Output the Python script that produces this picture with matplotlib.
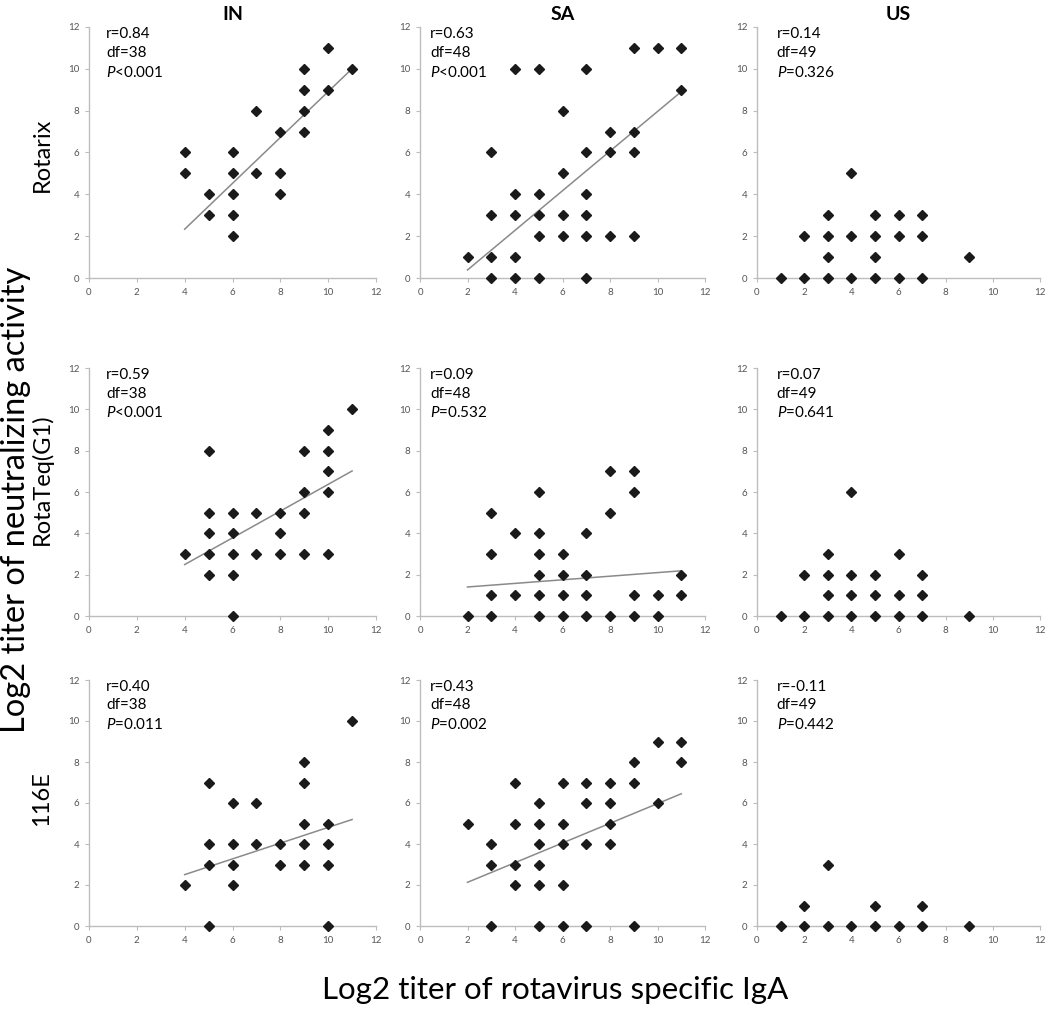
import numpy as np
import matplotlib.pyplot as plt

plt.rcParams['font.family'] = ['Lato', 'DejaVu Sans']
plt.rcParams['mathtext.fontset'] = 'custom'
plt.rcParams['mathtext.rm'] = 'Lato'
plt.rcParams['mathtext.it'] = 'Lato:italic'

countries = ['IN', 'SA', 'US']
vaccines = ['Rotarix', 'RotaTeq(G1)', '116E']

# Rotarix row
in_rotarix_x = [4, 4, 5, 5, 6, 6, 6, 6, 6, 7, 7, 8, 8, 8, 9, 9, 9, 9, 10, 10, 11]
in_rotarix_y = [6, 5, 4, 3, 6, 5, 4, 3, 2, 8, 5, 7, 5, 4, 10, 9, 8, 7, 11, 9, 10]
sa_rotarix_x = [2, 3, 3, 3, 3, 4, 4, 4, 4, 4, 5, 5, 5, 5, 5, 6, 6, 6, 6,
                7, 7, 7, 7, 7, 7, 8, 8, 8, 9, 9, 9, 9, 10, 11, 11]
sa_rotarix_y = [1, 6, 3, 1, 0, 10, 4, 3, 1, 0, 10, 4, 3, 2, 0, 8, 5, 3, 2,
                10, 6, 4, 3, 2, 0, 7, 6, 2, 11, 7, 6, 2, 11, 11, 9]
us_rotarix_x = [1, 2, 2, 3, 3, 3, 3, 4, 4, 4, 5, 5, 5, 5, 6, 6, 6, 7, 7, 7, 9]
us_rotarix_y = [0, 2, 0, 3, 2, 1, 0, 5, 2, 0, 3, 2, 1, 0, 3, 2, 0, 3, 2, 0, 1]

# RotaTeq(G1) row
in_rotateq_x = [4, 5, 5, 5, 5, 5, 6, 6, 6, 6, 6, 7, 7, 8, 8, 8,
                9, 9, 9, 9, 10, 10, 10, 10, 10, 11]
in_rotateq_y = [3, 8, 5, 4, 3, 2, 5, 4, 3, 2, 0, 5, 3, 5, 4, 3,
                8, 6, 5, 3, 9, 8, 7, 6, 3, 10]
sa_rotateq_x = [2, 3, 3, 3, 3, 4, 4, 5, 5, 5, 5, 5, 5, 6, 6, 6, 6,
                7, 7, 7, 7, 8, 8, 8, 9, 9, 9, 9, 10, 10, 11, 11]
sa_rotateq_y = [0, 5, 3, 1, 0, 4, 1, 6, 4, 3, 2, 1, 0, 3, 2, 1, 0,
                4, 2, 1, 0, 7, 5, 0, 7, 6, 1, 0, 1, 0, 2, 1]
us_rotateq_x = [1, 2, 2, 3, 3, 3, 3, 4, 4, 4, 4, 5, 5, 5, 6, 6, 6, 7, 7, 7, 9]
us_rotateq_y = [0, 2, 0, 3, 2, 1, 0, 6, 2, 1, 0, 2, 1, 0, 3, 1, 0, 2, 1, 0, 0]

# 116E row
in_116e_x = [4, 5, 5, 5, 5, 6, 6, 6, 6, 7, 7, 8, 8, 9, 9, 9, 9, 9,
             10, 10, 10, 10, 11]
in_116e_y = [2, 7, 4, 3, 0, 6, 4, 3, 2, 6, 4, 4, 3, 8, 7, 5, 4, 3,
             5, 4, 3, 0, 10]
sa_116e_x = [2, 3, 3, 3, 4, 4, 4, 4, 5, 5, 5, 5, 5, 5, 6, 6, 6, 6, 6,
             7, 7, 7, 7, 8, 8, 8, 8, 9, 9, 9, 10, 10, 11, 11]
sa_116e_y = [5, 4, 3, 0, 7, 5, 3, 2, 6, 5, 4, 3, 2, 0, 7, 5, 4, 2, 0,
             7, 6, 4, 0, 7, 6, 5, 4, 8, 7, 0, 9, 6, 9, 8]
us_116e_x = [1, 2, 2, 3, 3, 4, 5, 5, 6, 7, 7, 9]
us_116e_y = [0, 1, 0, 3, 0, 0, 1, 0, 0, 1, 0, 0]

# r, df, P label per panel (rows = vaccines, cols = countries)
r_values = [['0.84', '0.63', '0.14'],
            ['0.59', '0.09', '0.07'],
            ['0.40', '0.43', '-0.11']]
df_values = [[38, 48, 49], [38, 48, 49], [38, 48, 49]]
p_values = [['<0.001', '<0.001', '=0.326'],
            ['<0.001', '=0.532', '=0.641'],
            ['=0.011', '=0.002', '=0.442']]

# trend lines: (x start, x end, intercept, slope); None = no line
trend_lines = [[(4, 11, -2.05, 1.096), (2, 11, -1.51, 0.947), None],
               [(4, 11, -0.10, 0.647), (2, 11, 1.23, 0.087), None],
               [(4, 11, 0.97, 0.384), (2, 11, 1.17, 0.48), None]]

points = [[(in_rotarix_x, in_rotarix_y), (sa_rotarix_x, sa_rotarix_y), (us_rotarix_x, us_rotarix_y)],
          [(in_rotateq_x, in_rotateq_y), (sa_rotateq_x, sa_rotateq_y), (us_rotateq_x, us_rotateq_y)],
          [(in_116e_x, in_116e_y), (sa_116e_x, sa_116e_y), (us_116e_x, us_116e_y)]]

W, H = 1050, 1011
col_left = [89, 420, 757]
col_width = [287, 285, 283]
row_top = [27, 368, 680]
row_bottom = [278, 616, 926]
text_x = [0.06, 0.035, 0.07]

fig = plt.figure(figsize=(W / 100, H / 100), dpi=100)

for i in range(3):
    for j in range(3):
        rect = [col_left[j] / W, 1 - row_bottom[i] / H,
                col_width[j] / W, (row_bottom[i] - row_top[i]) / H]
        ax = fig.add_axes(rect)
        x, y = points[i][j]
        ax.plot(x, y, linestyle='none', marker='D', ms=4.8, color='#1a1a1a',
                clip_on=False, zorder=3)
        if trend_lines[i][j] is not None:
            x0, x1, b, m = trend_lines[i][j]
            xs = np.array([x0, x1])
            ax.plot(xs, b + m * xs, color='#8a8a8a', lw=1.1, zorder=2)
        ax.set_xlim(0, 12)
        ax.set_ylim(0, 12)
        ax.set_xticks(range(0, 13, 2))
        ax.set_yticks(range(0, 13, 2))
        for s in ['top', 'right']:
            ax.spines[s].set_visible(False)
        for s in ['left', 'bottom']:
            ax.spines[s].set_color('#bdbdbd')
            ax.spines[s].set_linewidth(1.0)
        ax.tick_params(direction='out', length=3, width=0.8, color='#bdbdbd',
                       labelsize=7, labelcolor='#555555', pad=4)
        ax.text(text_x[j], 1.0, 'r=' + r_values[i][j], transform=ax.transAxes,
                va='top', ha='left', fontsize=11)
        ax.text(text_x[j], 0.925, 'df=%d' % df_values[i][j], transform=ax.transAxes,
                va='top', ha='left', fontsize=11)
        ax.text(text_x[j], 0.85, r'$\it{P}$' + p_values[i][j], transform=ax.transAxes,
                va='top', ha='left', fontsize=11)
        if i == 0:
            ax.set_title(countries[j], fontsize=14, fontweight='bold', pad=5)

row_label_y = [155, 479, 799]
for i in range(3):
    fig.text(42 / W, 1 - row_label_y[i] / H, vaccines[i], rotation=90,
             ha='center', va='center', fontsize=17)

fig.text(16 / W, 1 - 500 / H, 'Log2 titer of neutralizing activity', rotation=90,
         ha='center', va='center', fontsize=23.5)
fig.text(555 / W, 1 - 990 / H, 'Log2 titer of rotavirus specific IgA',
         ha='center', va='center', fontsize=22.5)

fig.savefig('out.png', dpi=100)
